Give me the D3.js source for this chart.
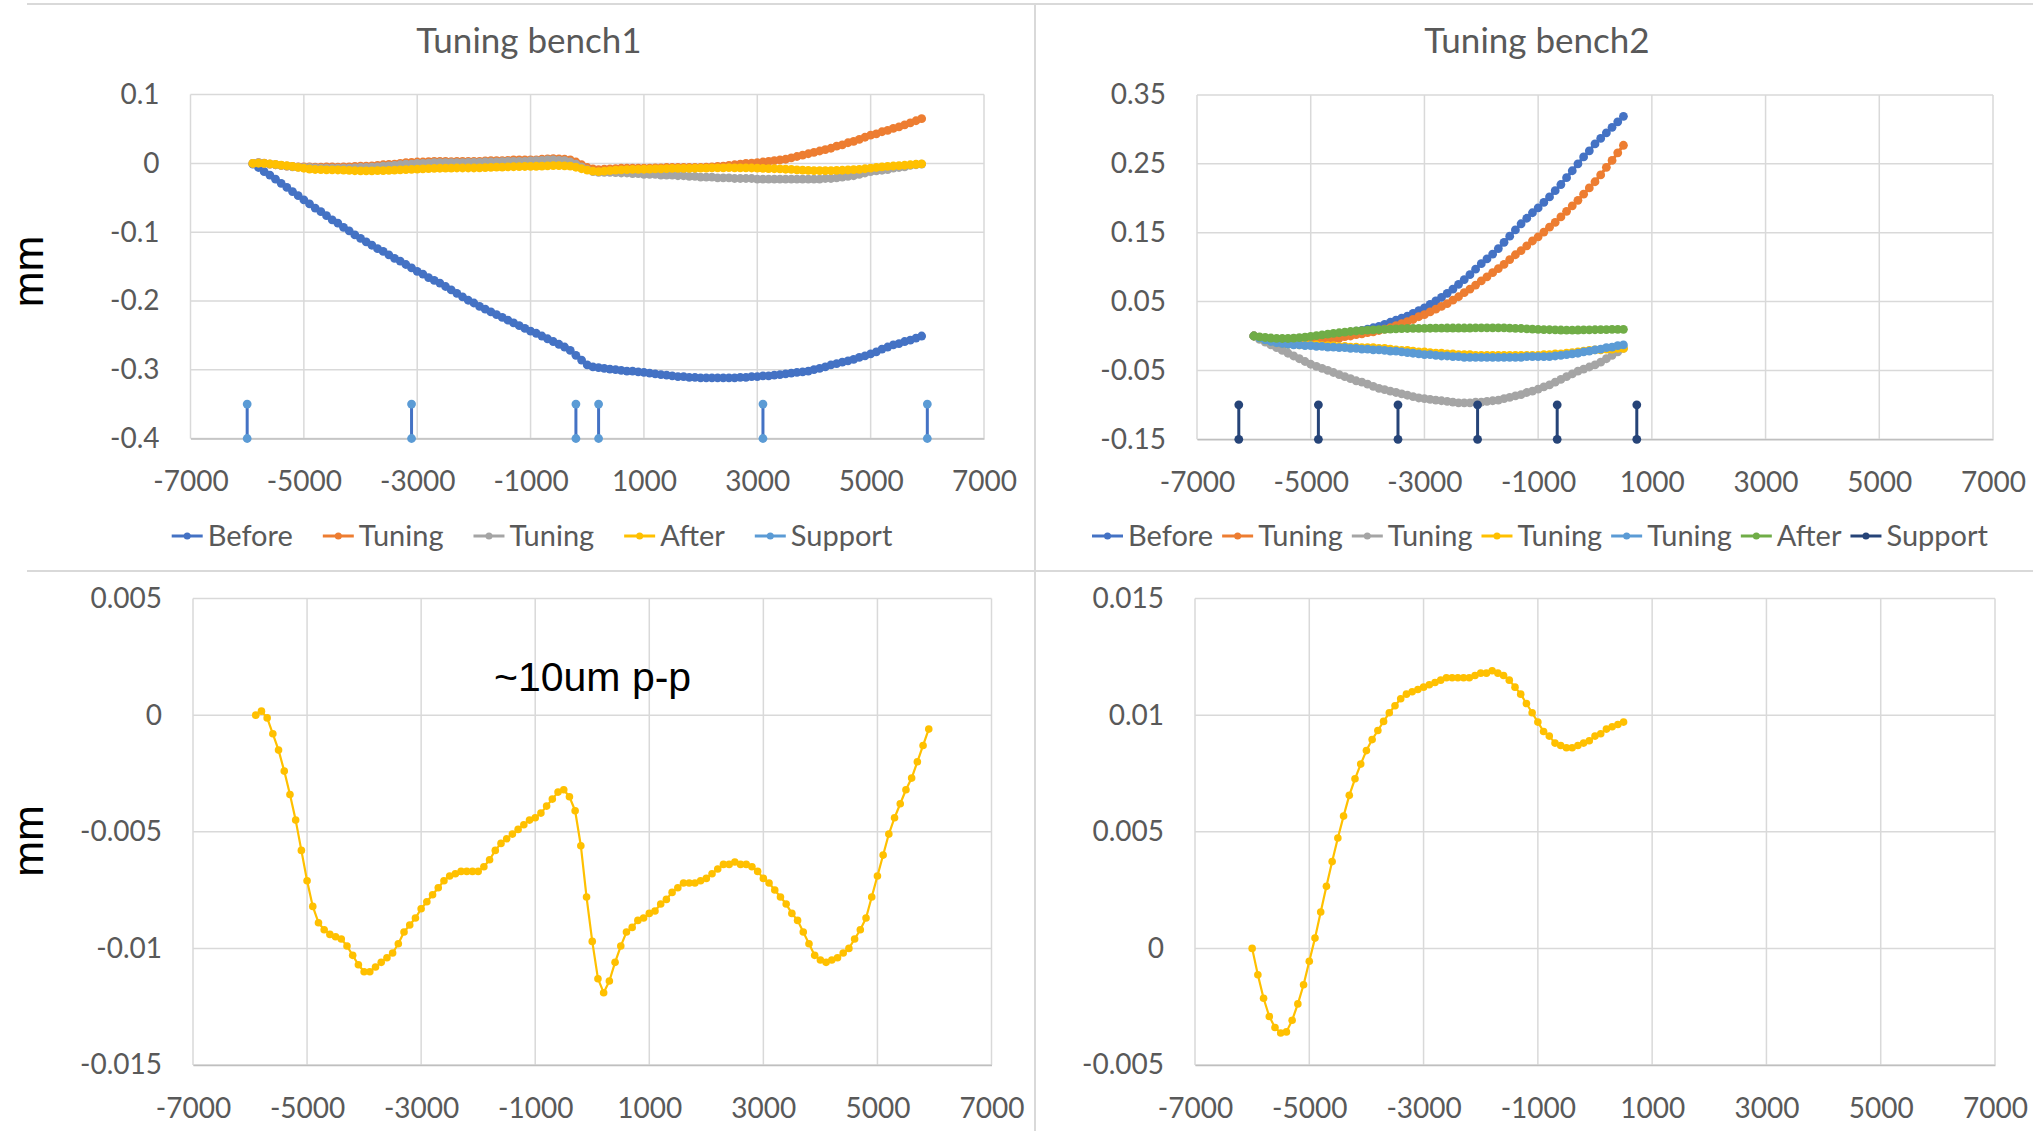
<!DOCTYPE html>
<html>
<head>
<meta charset="utf-8">
<script src="https://cdn.jsdelivr.net/npm/d3@7"></script>
<style>
html,body{margin:0;padding:0;background:#fff;overflow:hidden}
svg{display:block}
</style>
</head>
<body>
<svg id="chart" width="2033" height="1131"></svg>
<script>
// ---------------- DATA ----------------
const xTickValues = [-7000, -5000, -3000, -1000, 1000, 3000, 5000, 7000];

const bench1X = [
 -5900,-5800,-5700,-5600,-5500,-5400,-5300,-5200,-5100,-5000,
 -4900,-4800,-4700,-4600,-4500,-4400,-4300,-4200,-4100,-4000,
 -3900,-3800,-3700,-3600,-3500,-3400,-3300,-3200,-3100,-3000,
 -2900,-2800,-2700,-2600,-2500,-2400,-2300,-2200,-2100,-2000,
 -1900,-1800,-1700,-1600,-1500,-1400,-1300,-1200,-1100,-1000,
 -900,-800,-700,-600,-500,-400,-300,-200,-100,0,
 100,200,300,400,500,600,700,800,900,1000,
 1100,1200,1300,1400,1500,1600,1700,1800,1900,2000,
 2100,2200,2300,2400,2500,2600,2700,2800,2900,3000,
 3100,3200,3300,3400,3500,3600,3700,3800,3900,4000,
 4100,4200,4300,4400,4500,4600,4700,4800,4900,5000,
 5100,5200,5300,5400,5500,5600,5700,5800,5900
];

const bench1Before = [
 -0.001,-0.006,-0.012,-0.017,-0.023,-0.029,-0.035,-0.041,-0.047,-0.053,
 -0.059,-0.065,-0.070,-0.076,-0.082,-0.087,-0.093,-0.098,-0.104,-0.109,
 -0.114,-0.119,-0.124,-0.128,-0.133,-0.138,-0.142,-0.147,-0.152,-0.157,
 -0.161,-0.166,-0.170,-0.174,-0.179,-0.184,-0.189,-0.194,-0.199,-0.203,
 -0.208,-0.212,-0.216,-0.220,-0.224,-0.228,-0.232,-0.236,-0.240,-0.244,
 -0.247,-0.251,-0.255,-0.259,-0.263,-0.267,-0.272,-0.279,-0.286,-0.293,
 -0.296,-0.297,-0.298,-0.299,-0.300,-0.301,-0.302,-0.302,-0.303,-0.304,
 -0.305,-0.306,-0.307,-0.308,-0.309,-0.310,-0.310,-0.311,-0.311,-0.312,
 -0.312,-0.312,-0.312,-0.312,-0.312,-0.312,-0.311,-0.311,-0.310,-0.310,
 -0.309,-0.309,-0.308,-0.307,-0.306,-0.305,-0.304,-0.303,-0.302,-0.300,
 -0.298,-0.296,-0.293,-0.291,-0.289,-0.287,-0.285,-0.282,-0.280,-0.277,
 -0.274,-0.270,-0.267,-0.264,-0.262,-0.259,-0.257,-0.254,-0.251
];

const bench1Tuning1 = [
 0,0.001,0.0005,-0.001,-0.002,-0.003,-0.004,-0.0045,-0.005,-0.005,
 -0.005,-0.0055,-0.0055,-0.005,-0.005,-0.0055,-0.005,-0.005,-0.0045,-0.004,
 -0.004,-0.0035,-0.003,-0.002,-0.0015,-0.001,0,0.001,0.0015,0.002,
 0.002,0.0025,0.003,0.003,0.003,0.0025,0.003,0.003,0.003,0.003,
 0.003,0.0035,0.004,0.004,0.004,0.0045,0.005,0.005,0.005,0.005,
 0.005,0.006,0.0065,0.007,0.0065,0.006,0.005,0.002,-0.002,-0.006,
 -0.008,-0.009,-0.0085,-0.008,-0.0075,-0.007,-0.007,-0.007,-0.007,-0.007,
 -0.007,-0.0065,-0.0065,-0.006,-0.006,-0.006,-0.006,-0.006,-0.006,-0.006,
 -0.0055,-0.005,-0.0045,-0.004,-0.003,-0.002,-0.001,0,0.0005,0.001,
 0.002,0.003,0.004,0.005,0.006,0.008,0.010,0.012,0.014,0.016,
 0.018,0.020,0.022,0.025,0.027,0.030,0.032,0.035,0.038,0.041,
 0.043,0.046,0.048,0.051,0.053,0.056,0.059,0.062,0.065
];

const bench1Tuning2 = [
 0,0.001,0,-0.001,-0.002,-0.003,-0.004,-0.005,-0.0055,-0.006,
 -0.006,-0.0065,-0.007,-0.007,-0.007,-0.007,-0.007,-0.007,-0.0065,-0.006,
 -0.006,-0.0055,-0.005,-0.004,-0.0035,-0.003,-0.002,-0.001,-0.001,0,
 0,0.0005,0.001,0.001,0.001,0.001,0.001,0.001,0.0015,0.0015,
 0.0015,0.002,0.002,0.002,0.0025,0.003,0.003,0.003,0.003,0.0035,
 0.004,0.0045,0.005,0.005,0.0045,0.004,0.002,-0.001,-0.005,-0.009,
 -0.012,-0.013,-0.013,-0.013,-0.0135,-0.014,-0.014,-0.015,-0.015,-0.016,
 -0.016,-0.016,-0.017,-0.017,-0.017,-0.018,-0.018,-0.019,-0.019,-0.020,
 -0.020,-0.020,-0.021,-0.021,-0.021,-0.022,-0.022,-0.022,-0.022,-0.023,
 -0.023,-0.023,-0.023,-0.023,-0.023,-0.023,-0.023,-0.023,-0.023,-0.023,
 -0.023,-0.022,-0.022,-0.021,-0.020,-0.019,-0.018,-0.016,-0.014,-0.012,
 -0.011,-0.010,-0.009,-0.007,-0.006,-0.005,-0.003,-0.002,-0.001
];

// bench1 "After" (shown also in the bottom-left residual chart)
const bench1After = [
 0,0.00017,-0.00012,-0.0008,-0.0015,-0.0024,-0.0034,-0.0045,-0.0058,-0.0071,
 -0.0082,-0.0089,-0.0092,-0.0094,-0.0095,-0.0096,-0.0099,-0.0103,-0.0107,-0.0110,
 -0.0110,-0.0108,-0.0106,-0.0104,-0.0102,-0.0098,-0.0093,-0.0090,-0.0087,-0.0083,
 -0.0080,-0.0077,-0.0074,-0.0071,-0.0069,-0.0068,-0.0067,-0.0067,-0.0067,-0.0067,
 -0.0065,-0.0062,-0.0058,-0.0055,-0.0053,-0.0051,-0.0049,-0.0047,-0.0045,-0.0044,
 -0.0042,-0.0039,-0.0036,-0.0033,-0.0032,-0.0035,-0.0041,-0.0056,-0.0078,-0.0097,
 -0.0113,-0.0119,-0.0114,-0.0106,-0.0099,-0.0093,-0.0091,-0.0088,-0.0087,-0.0085,
 -0.0084,-0.0081,-0.0079,-0.0076,-0.0074,-0.0072,-0.0072,-0.0072,-0.0071,-0.0070,
 -0.0068,-0.0066,-0.0064,-0.0064,-0.0063,-0.0064,-0.0064,-0.0065,-0.0067,-0.0070,
 -0.0072,-0.0075,-0.0078,-0.0081,-0.0085,-0.0088,-0.0093,-0.0098,-0.0103,-0.0105,
 -0.0106,-0.0105,-0.0104,-0.0102,-0.0100,-0.0096,-0.0092,-0.0087,-0.0078,-0.0069,
 -0.0060,-0.0051,-0.0044,-0.0038,-0.0032,-0.0027,-0.0020,-0.0013,-0.0006
];

const bench1SupportX = [-6000, -3100, -200, 200, 3100, 6000];
const bench1SupportY = [-0.35, -0.4];

const bench2X = [
 -6000,-5900,-5800,-5700,-5600,-5500,-5400,-5300,-5200,-5100,
 -5000,-4900,-4800,-4700,-4600,-4500,-4400,-4300,-4200,-4100,
 -4000,-3900,-3800,-3700,-3600,-3500,-3400,-3300,-3200,-3100,
 -3000,-2900,-2800,-2700,-2600,-2500,-2400,-2300,-2200,-2100,
 -2000,-1900,-1800,-1700,-1600,-1500,-1400,-1300,-1200,-1100,
 -1000,-900,-800,-700,-600,-500,-400,-300,-200,-100,
 0,100,200,300,400,500
];

const bench2Before = [
 0,-0.002,-0.004,-0.005,-0.006,-0.006,-0.006,-0.006,-0.005,-0.004,
 -0.003,-0.002,-0.001,0.000,0.001,0.002,0.004,0.005,0.007,0.008,
 0.010,0.012,0.014,0.017,0.020,0.023,0.026,0.029,0.033,0.037,
 0.041,0.046,0.051,0.056,0.062,0.068,0.075,0.082,0.089,0.097,
 0.105,0.112,0.119,0.127,0.136,0.145,0.154,0.163,0.171,0.179,
 0.186,0.194,0.202,0.211,0.220,0.230,0.240,0.250,0.260,0.269,
 0.279,0.287,0.295,0.303,0.311,0.319
];

const bench2Tuning1 = [
 0,-0.002,-0.004,-0.006,-0.007,-0.008,-0.009,-0.009,-0.009,-0.008,
 -0.008,-0.007,-0.006,-0.005,-0.004,-0.003,-0.001,0.000,0.002,0.003,
 0.005,0.006,0.008,0.010,0.012,0.015,0.018,0.021,0.024,0.028,
 0.031,0.035,0.039,0.043,0.047,0.052,0.057,0.063,0.068,0.074,
 0.080,0.086,0.092,0.098,0.104,0.111,0.118,0.124,0.131,0.138,
 0.144,0.151,0.158,0.165,0.173,0.181,0.189,0.197,0.206,0.215,
 0.224,0.234,0.245,0.255,0.266,0.277
];

const bench2Tuning2 = [
 0,-0.005,-0.009,-0.013,-0.017,-0.021,-0.025,-0.029,-0.033,-0.037,
 -0.041,-0.044,-0.047,-0.050,-0.053,-0.056,-0.059,-0.062,-0.065,-0.067,
 -0.070,-0.073,-0.076,-0.078,-0.080,-0.082,-0.084,-0.086,-0.088,-0.090,
 -0.091,-0.092,-0.093,-0.094,-0.095,-0.096,-0.097,-0.097,-0.097,-0.096,
 -0.096,-0.095,-0.094,-0.093,-0.091,-0.089,-0.087,-0.085,-0.082,-0.080,
 -0.077,-0.074,-0.071,-0.067,-0.063,-0.059,-0.055,-0.051,-0.048,-0.045,
 -0.042,-0.038,-0.033,-0.028,-0.023,-0.018
];

const bench2Tuning3 = [
 0,-0.003,-0.006,-0.008,-0.010,-0.011,-0.012,-0.012,-0.013,-0.013,
 -0.013,-0.013,-0.014,-0.014,-0.014,-0.015,-0.015,-0.016,-0.016,-0.017,
 -0.017,-0.017,-0.018,-0.018,-0.019,-0.020,-0.021,-0.021,-0.022,-0.023,
 -0.023,-0.024,-0.025,-0.025,-0.026,-0.026,-0.027,-0.027,-0.027,-0.028,
 -0.028,-0.028,-0.028,-0.028,-0.028,-0.028,-0.028,-0.028,-0.028,-0.028,
 -0.028,-0.027,-0.027,-0.026,-0.026,-0.025,-0.024,-0.023,-0.022,-0.021,
 -0.020,-0.020,-0.019,-0.019,-0.018,-0.018
];

const bench2Tuning4 = [
 0,-0.003,-0.006,-0.008,-0.010,-0.011,-0.012,-0.013,-0.013,-0.014,
 -0.014,-0.015,-0.015,-0.016,-0.016,-0.017,-0.017,-0.018,-0.018,-0.019,
 -0.019,-0.020,-0.020,-0.021,-0.022,-0.022,-0.023,-0.024,-0.025,-0.026,
 -0.027,-0.027,-0.028,-0.029,-0.029,-0.030,-0.030,-0.031,-0.031,-0.031,
 -0.031,-0.031,-0.031,-0.031,-0.031,-0.031,-0.031,-0.031,-0.030,-0.030,
 -0.030,-0.030,-0.030,-0.029,-0.028,-0.027,-0.026,-0.025,-0.023,-0.022,
 -0.020,-0.019,-0.017,-0.016,-0.014,-0.013
];

// bench2 "After" (shown also in the bottom-right residual chart)
const bench2After = [
 0,-0.00113,-0.00214,-0.00292,-0.00339,-0.00363,-0.00358,-0.00308,-0.00238,-0.00156,
 -0.00055,0.00044,0.00156,0.00266,0.00372,0.00473,0.00567,0.00656,0.00727,0.0079,
 0.00848,0.00895,0.00934,0.00973,0.0101,0.0104,0.0107,0.0109,0.0110,0.0111,
 0.0112,0.0113,0.0114,0.0115,0.0116,0.0116,0.0116,0.0116,0.0116,0.0117,
 0.0118,0.0118,0.0119,0.0118,0.0117,0.0115,0.0112,0.0109,0.0105,0.0101,
 0.0097,0.0093,0.0091,0.0088,0.0087,0.0086,0.0086,0.0087,0.0088,0.0089,
 0.0091,0.0092,0.0094,0.0095,0.0096,0.0097
];

const bench2SupportX = [-6265, -4865, -3465, -2065, -665, 735];
const bench2SupportY = [-0.1, -0.15];

const yTicksTL = [0.1, 0, -0.1, -0.2, -0.3, -0.4];
const yTicksTR = [0.35, 0.25, 0.15, 0.05, -0.05, -0.15];
const yTicksBL = [0.005, 0, -0.005, -0.01, -0.015];
const yTicksBR = [0.015, 0.01, 0.005, 0, -0.005];

const C = {blue:'#4472C4', orange:'#ED7D31', gray:'#A5A5A5', yellow:'#FFC000',
           lightblue:'#5B9BD5', green:'#70AD47', navy:'#264478'};

// ---------------- DRAW ----------------
const FONT = "Lato, 'Noto Sans', sans-serif";
const TXT = '#595959';
const svg = d3.select('#chart');

// separators / chart borders
const sep = svg.append('g').attr('stroke', '#D9D9D9').attr('stroke-width', 2);
sep.append('line').attr('x1', 27).attr('x2', 2033).attr('y1', 4).attr('y2', 4);
sep.append('line').attr('x1', 27).attr('x2', 2033).attr('y1', 571).attr('y2', 571);
sep.append('line').attr('x1', 1035).attr('x2', 1035).attr('y1', 4).attr('y2', 1131);

function zip(xs, ys) { return xs.map((v, i) => [v, ys[i]]); }

function drawPanel(p) {
  const g = svg.append('g');
  const x = d3.scaleLinear().domain([-7000, 7000]).range([p.left, p.right]);
  const y = d3.scaleLinear().domain(p.yDomain).range([p.bottom, p.top]);

  g.append('g').selectAll('line').data(xTickValues).join('line')
    .attr('x1', d => x(d)).attr('x2', d => x(d))
    .attr('y1', p.top).attr('y2', p.bottom)
    .attr('stroke', '#D9D9D9').attr('stroke-width', 1.5);
  g.append('g').selectAll('line').data(p.yTicks).join('line')
    .attr('x1', p.left).attr('x2', p.right)
    .attr('y1', d => y(d)).attr('y2', d => y(d))
    .attr('stroke', '#D9D9D9').attr('stroke-width', 1.5);

  const ax = g.append('g').attr('transform', `translate(0,${p.bottom})`)
    .call(d3.axisBottom(x).tickValues(xTickValues).tickSize(0).tickSizeOuter(0)
      .tickPadding(33).tickFormat(d => String(d)));
  ax.select('.domain').attr('stroke', '#BFBFBF').attr('stroke-width', 1.5);
  ax.selectAll('text').attr('font-family', FONT).attr('font-size', 28).attr('fill', TXT);

  const ay = g.append('g').attr('transform', `translate(${p.left},0)`)
    .call(d3.axisLeft(y).tickValues(p.yTicks).tickSize(0).tickSizeOuter(0)
      .tickPadding(31).tickFormat(d => String(d)));
  ay.select('.domain').remove();
  ay.selectAll('text').attr('font-family', FONT).attr('font-size', 28).attr('fill', TXT);

  const line = d3.line().x(d => x(d[0])).y(d => y(d[1]));
  p.series.forEach(s => {
    const pts = zip(s.x, s.y);
    g.append('path').datum(pts).attr('d', line)
      .attr('fill', 'none').attr('stroke', s.color).attr('stroke-width', s.lw || 3.2)
      .attr('stroke-linejoin', 'round');
    g.append('g').selectAll('circle').data(pts).join('circle')
      .attr('cx', d => x(d[0])).attr('cy', d => y(d[1])).attr('r', s.r || 4.4)
      .attr('fill', s.color);
  });

  if (p.support) {
    const s = p.support;
    const sg = g.append('g');
    sg.selectAll('line').data(s.x).join('line')
      .attr('x1', d => x(d)).attr('x2', d => x(d))
      .attr('y1', y(s.y[0])).attr('y2', y(s.y[1]))
      .attr('stroke', s.line).attr('stroke-width', 3);
    const ends = [];
    s.x.forEach(v => s.y.forEach(w => ends.push([v, w])));
    sg.selectAll('circle').data(ends).join('circle')
      .attr('cx', d => x(d[0])).attr('cy', d => y(d[1])).attr('r', 4.4)
      .attr('fill', s.color);
  }

  if (p.title) {
    g.append('text').attr('x', p.title.x).attr('y', 52.5).attr('text-anchor', 'middle')
      .attr('font-family', FONT).attr('font-size', 35).attr('fill', TXT).text(p.title.text);
  }

  if (p.legend) {
    const L = p.legend;
    const lg = g.append('g');
    let cx = 0;
    L.items.forEach(it => {
      const ig = lg.append('g');
      ig.append('line').attr('x1', cx).attr('x2', cx + 31).attr('y1', L.y).attr('y2', L.y)
        .attr('stroke', it.line || it.color).attr('stroke-width', 3);
      ig.append('circle').attr('cx', cx + 15.5).attr('cy', L.y).attr('r', 3.5).attr('fill', it.color);
      const t = ig.append('text').attr('x', cx + 36).attr('y', L.y + 10)
        .attr('font-family', FONT).attr('font-size', 29).attr('fill', TXT).text(it.name);
      cx += 36 + t.node().getComputedTextLength() + L.gap;
    });
    const total = cx - L.gap;
    lg.attr('transform', `translate(${L.cx - total / 2},0)`);
  }
}

// Top-left: Tuning bench1
drawPanel({
  left: 190.5, right: 984, top: 94.6, bottom: 438.5,
  yDomain: [-0.4, 0.1], yTicks: yTicksTL,
  series: [
    {x: bench1X, y: bench1Before, color: C.blue},
    {x: bench1X, y: bench1Tuning1, color: C.orange},
    {x: bench1X, y: bench1Tuning2, color: C.gray},
    {x: bench1X, y: bench1After, color: C.yellow}
  ],
  support: {x: bench1SupportX, y: bench1SupportY, color: C.lightblue, line: C.blue},
  title: {x: 529, text: 'Tuning bench1'},
  legend: {cx: 532, y: 536, gap: 30, items: [
    {name: 'Before', color: C.blue},
    {name: 'Tuning', color: C.orange},
    {name: 'Tuning', color: C.gray},
    {name: 'After', color: C.yellow},
    {name: 'Support', color: C.lightblue, line: C.lightblue}
  ]}
});

// Top-right: Tuning bench2
drawPanel({
  left: 1197, right: 1993, top: 95, bottom: 439.3,
  yDomain: [-0.15, 0.35], yTicks: yTicksTR,
  series: [
    {x: bench2X, y: bench2Before, color: C.blue},
    {x: bench2X, y: bench2Tuning1, color: C.orange},
    {x: bench2X, y: bench2Tuning2, color: C.gray},
    {x: bench2X, y: bench2Tuning3, color: C.yellow},
    {x: bench2X, y: bench2Tuning4, color: C.lightblue},
    {x: bench2X, y: bench2After, color: C.green}
  ],
  support: {x: bench2SupportX, y: bench2SupportY, color: C.navy, line: C.navy},
  title: {x: 1537, text: 'Tuning bench2'},
  legend: {cx: 1540, y: 536, gap: 9, items: [
    {name: 'Before', color: C.blue},
    {name: 'Tuning', color: C.orange},
    {name: 'Tuning', color: C.gray},
    {name: 'Tuning', color: C.yellow},
    {name: 'Tuning', color: C.lightblue},
    {name: 'After', color: C.green},
    {name: 'Support', color: C.navy}
  ]}
});

// Bottom-left: bench1 After residual
drawPanel({
  left: 193, right: 991.5, top: 598.5, bottom: 1065,
  yDomain: [-0.015, 0.005], yTicks: yTicksBL,
  series: [{x: bench1X, y: bench1After, color: C.yellow, lw: 2.2, r: 3.8}]
});

// Bottom-right: bench2 After residual
drawPanel({
  left: 1195, right: 1995, top: 598.5, bottom: 1065,
  yDomain: [-0.005, 0.015], yTicks: yTicksBR,
  series: [{x: bench2X, y: bench2After, color: C.yellow, lw: 2.2, r: 3.8}]
});

// y-axis titles and annotation
const AF = "'Liberation Sans', Arial, sans-serif";
svg.append('text').attr('transform', 'translate(42.7,271.5) rotate(-90)')
  .attr('text-anchor', 'middle').attr('font-family', AF).attr('font-size', 43)
  .attr('fill', '#000').text('mm');
svg.append('text').attr('transform', 'translate(42.7,841) rotate(-90)')
  .attr('text-anchor', 'middle').attr('font-family', AF).attr('font-size', 43)
  .attr('fill', '#000').text('mm');
svg.append('text').attr('x', 494).attr('y', 691)
  .attr('font-family', AF).attr('font-size', 41).attr('fill', '#000').text('~10um p-p');
</script>
</body>
</html>
